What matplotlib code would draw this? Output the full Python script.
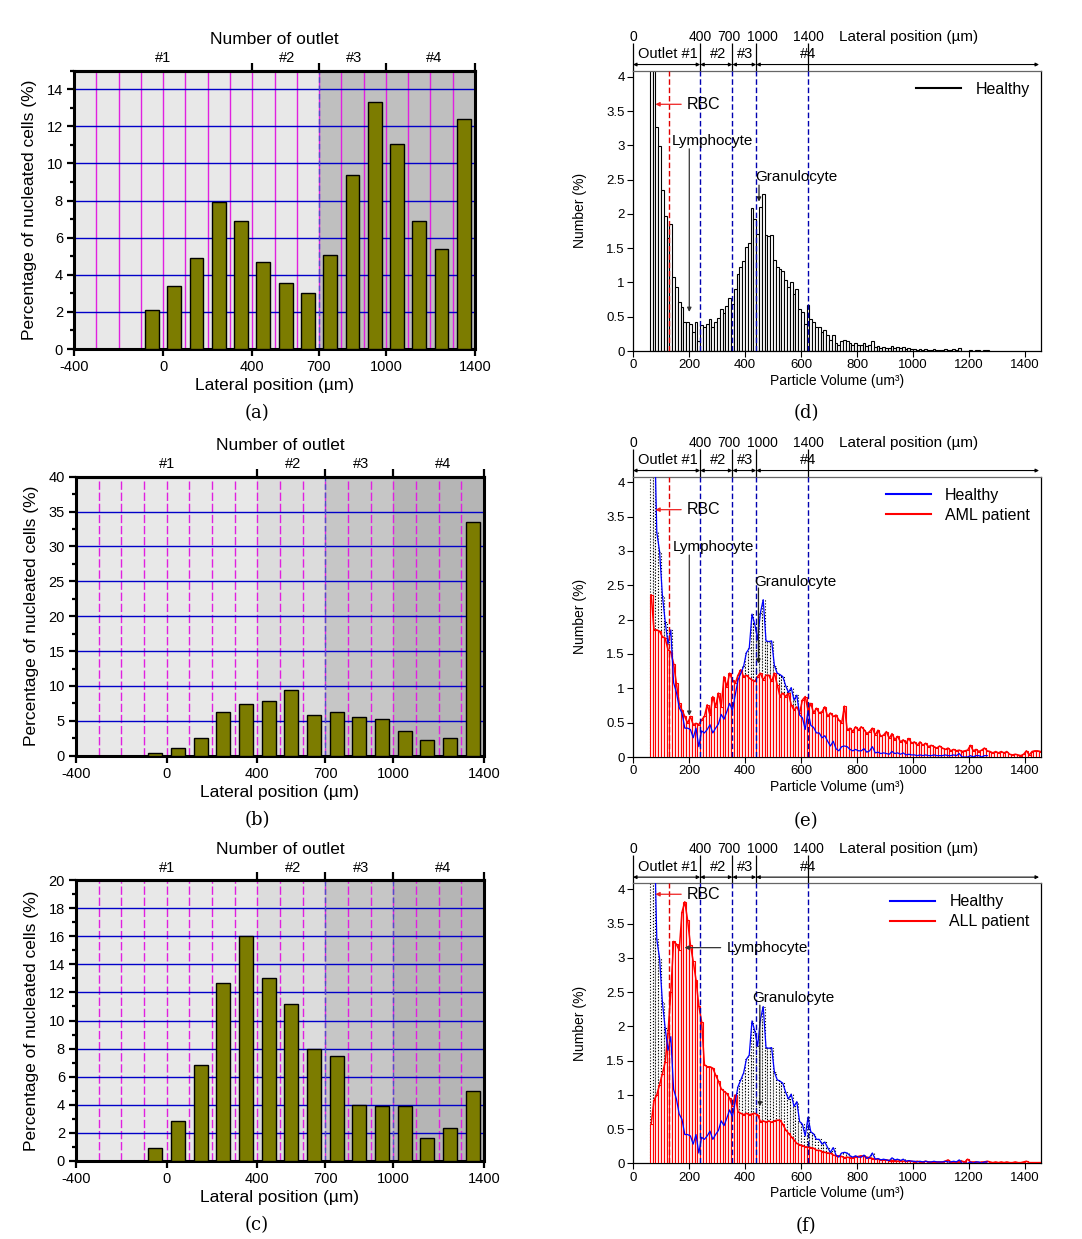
import numpy as np
import matplotlib
matplotlib.use("Agg")
import matplotlib.pyplot as plt
from matplotlib.ticker import AutoMinorLocator
from matplotlib.lines import Line2D

plt.rcParams['font.family'] = ['Liberation Sans', 'DejaVu Sans']
plt.rcParams['axes.unicode_minus'] = False

# ---------------- data: left panels (a)-(c) ----------------
lateral_pos = [-50, 50, 150, 250, 350, 450, 550, 650, 750, 850, 950, 1050, 1150, 1250, 1350]
pct_a = [2.1, 3.4, 4.9, 7.9, 6.9, 4.7, 3.55, 3.0, 5.05, 9.4, 13.3, 11.05, 6.9, 5.4, 12.4]
pct_b = [0.4, 1.1, 2.5, 6.2, 7.4, 7.9, 9.4, 5.8, 6.2, 5.5, 5.2, 3.5, 2.3, 2.6, 33.5]
pct_c = [0.9, 2.8, 6.8, 12.7, 16.0, 13.0, 11.2, 8.0, 7.5, 4.0, 3.9, 3.9, 1.6, 2.3, 5.0]
lateral_ticks = [-400, 0, 400, 700, 1000, 1400]
outlet_bounds = [-400, 400, 700, 1000, 1400]
outlet_names = ['#1', '#2', '#3', '#4']
outlet_name_pos = [0, 557, 858, 1218]

# ---------------- data: right panels (d)-(f) ----------------
vol_start = 60     # first bin left edge (um^3)
vol_width = 10     # bin width (um^3)
healthy = [
    6.2, 5.1, 3.27, 2.99, 2.35, 1.97, 1.65, 1.85, 1.08, 0.94,
    0.72, 0.64, 0.42, 0.42, 0.40, 0.28, 0.42, 0.15, 0.38, 0.35,
    0.40, 0.47, 0.35, 0.42, 0.48, 0.62, 0.55, 0.66, 0.78, 0.68,
    0.90, 1.12, 1.22, 1.32, 1.52, 1.58, 2.08, 1.93, 1.71, 2.10,
    2.29, 1.69, 1.68, 1.69, 1.33, 1.22, 1.20, 1.17, 1.04, 0.94,
    1.01, 0.83, 0.90, 0.61, 0.57, 0.40, 0.67, 0.46, 0.43, 0.35,
    0.35, 0.28, 0.31, 0.23, 0.16, 0.23, 0.12, 0.09, 0.15, 0.16,
    0.15, 0.11, 0.09, 0.11, 0.09, 0.09, 0.12, 0.07, 0.09, 0.15,
    0.06, 0.07, 0.05, 0.06, 0.05, 0.04, 0.08, 0.05, 0.06, 0.04,
    0.06, 0.03, 0.04, 0.03, 0.03, 0.02, 0.03, 0.02, 0.03, 0.02,
    0.02, 0.03, 0.02, 0.02, 0.02, 0.03, 0.02, 0.02, 0.03, 0.02,
    0.05, 0.0, 0.0, 0.0, 0.02, 0.0, 0.02, 0.02, 0.0, 0.02,
    0.02]
aml = [
    2.36, 1.85, 1.85, 1.83, 1.75, 1.73, 1.56, 1.53, 1.36, 1.07,
    0.78, 0.68, 0.59, 0.49, 0.59, 0.47, 0.49, 0.47, 0.54, 0.59,
    0.76, 0.61, 0.88, 0.73, 0.93, 0.73, 1.17, 1.02, 1.22, 1.12,
    1.07, 1.19, 1.27, 1.17, 1.19, 1.15, 1.12, 1.10, 1.17, 1.22,
    1.12, 1.19, 1.19, 1.10, 1.22, 1.05, 0.88, 0.93, 0.88, 0.93,
    0.76, 0.68, 0.73, 0.64, 0.83, 0.88, 0.68, 0.78, 0.64, 0.71,
    0.64, 0.66, 0.73, 0.59, 0.64, 0.59, 0.61, 0.54, 0.49, 0.74,
    0.39, 0.42, 0.37, 0.44, 0.39, 0.44, 0.40, 0.34, 0.37, 0.42,
    0.32, 0.39, 0.30, 0.32, 0.37, 0.27, 0.34, 0.25, 0.30, 0.22,
    0.25, 0.20, 0.27, 0.20, 0.22, 0.17, 0.22, 0.17, 0.20, 0.15,
    0.17, 0.15, 0.13, 0.16, 0.13, 0.11, 0.13, 0.09, 0.11, 0.09,
    0.10, 0.08, 0.09, 0.10, 0.17, 0.09, 0.11, 0.08, 0.10, 0.13,
    0.09, 0.08, 0.06, 0.08, 0.06, 0.08, 0.06, 0.08, 0.04, 0.03,
    0.04, 0.03, 0.02, 0.04, 0.09, 0.03, 0.08, 0.09, 0.09, 0.08]
all_patient = [
    0.58, 0.92, 1.00, 1.15, 1.31, 1.48, 1.90, 2.50, 3.24, 3.20,
    3.11, 3.67, 3.82, 3.55, 3.19, 2.95, 2.68, 2.30, 2.07, 1.44,
    1.41, 1.41, 1.39, 1.29, 1.20, 1.09, 1.05, 1.02, 0.95, 0.83,
    1.00, 0.75, 0.73, 0.71, 0.73, 0.71, 0.72, 0.73, 0.71, 0.61,
    0.62, 0.60, 0.62, 0.60, 0.62, 0.63, 0.63, 0.57, 0.49, 0.44,
    0.39, 0.34, 0.29, 0.27, 0.26, 0.24, 0.24, 0.23, 0.22, 0.19,
    0.19, 0.17, 0.16, 0.15, 0.15, 0.12, 0.11, 0.11, 0.10, 0.08,
    0.09, 0.08, 0.08, 0.09, 0.10, 0.11, 0.10, 0.09, 0.08, 0.07,
    0.06, 0.06, 0.05, 0.05, 0.05, 0.04, 0.04, 0.04, 0.03, 0.04,
    0.03, 0.03, 0.03, 0.03, 0.02, 0.03, 0.02, 0.02, 0.03, 0.02,
    0.02, 0.02, 0.02, 0.02, 0.02, 0.03, 0.05, 0.02, 0.02, 0.02,
    0.02, 0.03, 0.02, 0.06, 0.02, 0.02, 0.02, 0.01, 0.02, 0.02,
    0.03, 0.02, 0.01, 0.02, 0.01, 0.02, 0.01, 0.02, 0.01, 0.01,
    0.02, 0.01, 0.01, 0.02, 0.03, 0.01, 0.01, 0.01, 0.01, 0.01]
vol_ticks = [0, 200, 400, 600, 800, 1000, 1200, 1400]
num_ticks = [0, 0.5, 1, 1.5, 2, 2.5, 3, 3.5, 4]
num_tick_labels = ['0', '0.5', '1', '1.5', '2', '2.5', '3', '3.5', '4']
top_vol_pos = [0, 240, 355, 440, 625]
top_lat_labels = ['0', '400', '700', '1000', '1400']
top_lat_label_x = [0, 240, 343, 461, 625]
outlet_vol_edges = [0, 240, 355, 440, 1450]
outlet_vol_names = ['Outlet #1', '#2', '#3', '#4']
outlet_vol_name_x = [126, 302, 400, 624]
rbc_line = 130

W, H = 1082, 1239
fig = plt.figure(figsize=(W / 100, H / 100), dpi=100)
fig.patch.set_facecolor('white')


def left_panel(rect, vals, ymax, ystep, shades, dashed, mag_ls):
    ax = fig.add_axes(rect)
    ax.set_xlim(-400, 1400)
    ax.set_ylim(0, ymax)
    for x0, x1, c in zip(outlet_bounds[:-1], outlet_bounds[1:], shades):
        ax.axvspan(x0, x1, color=c, lw=0, zorder=0)
    for x in np.arange(-300, 1400, 100):
        ax.axvline(x, color='#e020e0', lw=1.0, ls=mag_ls, zorder=1)
    yt = np.arange(0, ymax + 0.001, ystep)
    ax.set_yticks(yt)
    for y in yt[1:]:
        ax.axhline(y, color='#0000c8', lw=1.0, zorder=1.2)
    for x in dashed:
        ax.axvline(x, color='#5050c8', lw=1.0, ls=(0, (4, 2)), zorder=1.5)
    ax.bar(lateral_pos, vals, width=62, color='#7c7c00', edgecolor='black',
           lw=1.0, zorder=3)
    ax.set_xticks(lateral_ticks)
    ax.tick_params(axis='both', which='major', direction='out', width=1.6,
                   length=5, labelsize=10.5, pad=3)
    ax.yaxis.set_minor_locator(AutoMinorLocator(2))
    ax.tick_params(axis='y', which='minor', direction='out', width=1.6, length=3)
    for s in ax.spines.values():
        s.set_linewidth(2.2)
    ax.set_xlabel('Lateral position (µm)', fontsize=12.5, labelpad=3)
    ax.set_ylabel('Percentage of nucleated cells (%)', fontsize=12.5, labelpad=7)
    sec = ax.secondary_xaxis('top')
    sec.set_xticks(outlet_bounds[1:], labels=[''] * 4)
    sec.set_xticks(outlet_name_pos, labels=outlet_names, minor=True)
    sec.tick_params(which='major', direction='out', length=6, width=1.6)
    sec.tick_params(which='minor', length=0, labelsize=10.5, pad=4)
    sec.spines['top'].set_linewidth(2.2)
    sec.set_xlabel('Number of outlet', fontsize=12.5, labelpad=5)
    return ax


def right_panel(rect, ymax, patient, patient_label, lym, gran, rbc_y):
    ax = fig.add_axes(rect)
    ax.set_xlim(0, 1457)
    ax.set_ylim(0, ymax)
    hx = vol_start + np.arange(len(healthy)) * vol_width
    if patient is None:
        ax.bar(hx, healthy, width=vol_width, align='edge', facecolor='white',
               edgecolor='black', lw=0.8, zorder=2)
    else:
        ax.bar(hx, healthy, width=vol_width, align='edge', facecolor='white',
               edgecolor='black', lw=0.8, ls=':', zorder=2)
        px = vol_start + np.arange(len(patient)) * vol_width
        ax.bar(px, patient, width=vol_width, align='edge', facecolor='#fff4f4',
               edgecolor='#ff0000', lw=0.8, zorder=3)
        ax.plot(px + vol_width / 2, patient, color='#ff0000', lw=1.1, zorder=4)
        ax.plot(hx + vol_width / 2, healthy, color='#0000ff', lw=0.9, zorder=5)
    # outlet boundaries
    ax.axvline(rbc_line, color='#e00000', lw=1.0, ls=(0, (4, 2)), zorder=6)
    for x in top_vol_pos[1:]:
        ax.axvline(x, color='#0000b0', lw=1.0, ls=(0, (4, 2)), zorder=6)
    ax.set_xticks(vol_ticks)
    ax.set_yticks(num_ticks, labels=num_tick_labels)
    ax.tick_params(direction='out', length=4, width=0.8, labelsize=9.5, pad=2)
    for s in ax.spines.values():
        s.set_linewidth(0.9)
    ax.spines['top'].set_color('#666666')
    ax.set_xlabel('Particle Volume (um³)', fontsize=10, labelpad=2)
    ax.set_ylabel('Number (%)', fontsize=10, labelpad=14)
    tr = ax.get_xaxis_transform()
    sec = ax.secondary_xaxis('top')
    sec.set_xticks(top_vol_pos, labels=[''] * len(top_vol_pos))
    sec.tick_params(direction='out', length=20, width=0.9, pad=0)
    sec.spines['top'].set_visible(False)
    for x, lab in zip(top_lat_label_x, top_lat_labels):
        ax.text(x, 1.122, lab, transform=tr, fontsize=10, ha='center',
                va='center')
    ax.text(737, 1.122, 'Lateral position (µm)', transform=tr,
            fontsize=11, ha='left', va='center')
    # outlet arrows
    for x0, x1, name, nx in zip(outlet_vol_edges[:-1], outlet_vol_edges[1:],
                                outlet_vol_names, outlet_vol_name_x):
        ax.annotate('', xy=(x1, 1.022), xytext=(x0, 1.022), xycoords=tr,
                    textcoords=tr, annotation_clip=False,
                    arrowprops=dict(arrowstyle='<|-|>', lw=0.8, color='black',
                                    mutation_scale=5, shrinkA=0, shrinkB=0))
        ax.text(nx, 1.058, name, transform=tr, fontsize=10.5, ha='center',
                va='center')
    # RBC
    ax.annotate('', xy=(80, rbc_y), xytext=(172, rbc_y),
                arrowprops=dict(arrowstyle='-|>', lw=0.9, color='#ee2020',
                                mutation_scale=6, shrinkA=0, shrinkB=0), zorder=8)
    ax.text(192, rbc_y, 'RBC', fontsize=11.5, ha='left', va='center', zorder=8)
    # Lymphocyte
    (ltx, lty), (lax0, lay0), (lax1, lay1) = lym
    ax.text(ltx, lty, 'Lymphocyte', fontsize=11, ha='left', va='center', zorder=8)
    ax.annotate('', xy=(lax1, lay1), xytext=(lax0, lay0),
                arrowprops=dict(arrowstyle='-|>', lw=0.9, color='#333333',
                                mutation_scale=6, shrinkA=0, shrinkB=0), zorder=8)
    (gtx, gty), (gax0, gay0), (gax1, gay1) = gran
    ax.text(gtx, gty, 'Granulocyte', fontsize=11, ha='left', va='center', zorder=8)
    ax.annotate('', xy=(gax1, gay1), xytext=(gax0, gay0),
                arrowprops=dict(arrowstyle='-|>', lw=0.9, color='#222222',
                                mutation_scale=6, shrinkA=0, shrinkB=0), zorder=8)
    # legend
    if patient is None:
        handles = [Line2D([], [], color='black', lw=1.5)]
        labels = ['Healthy']
    else:
        handles = [Line2D([], [], color='#0000ff', lw=1.5),
                   Line2D([], [], color='#ff0000', lw=1.5)]
        labels = ['Healthy', patient_label]
    leg = ax.legend(handles, labels, loc='upper right', frameon=False,
                    fontsize=11.5, handlelength=2.8, handletextpad=0.9,
                    labelspacing=0.3, borderaxespad=0.3)
    leg.set_zorder(10)
    return ax


shade_a = ['#e8e8e8', '#e8e8e8', '#bfbfbf', '#bfbfbf']
shade_bc = ['#e8e8e8', '#dcdcdc', '#c6c6c6', '#b5b5b5']

left_panel([74 / W, 1 - 349 / H, 401 / W, 278.3 / H], pct_a, 15, 2,
           shade_a, [700], '-')
left_panel([76 / W, 1 - 755.7 / H, 408 / W, 279 / H], pct_b, 40, 5,
           shade_bc, [700], (0, (6, 2)))
left_panel([76 / W, 1 - 1160.7 / H, 408 / W, 280.4 / H], pct_c, 20, 2,
           shade_bc, [700, 1000], (0, (6, 2)))

right_panel([633 / W, 1 - 351 / H, 408 / W, 280.3 / H], 4.09, None, None,
            ((138, 3.07), (201, 2.95), (201, 0.57)),
            ((436, 2.54), (450, 2.42), (450, 2.18)), 3.6)
right_panel([633 / W, 1 - 757 / H, 408 / W, 280.3 / H], 4.08, aml, 'AML patient',
            ((142, 3.06), (201, 2.94), (201, 0.6)),
            ((432, 2.55), (448, 2.46), (448, 1.36)), 3.6)
right_panel([633 / W, 1 - 1163.3 / H, 408 / W, 280 / H], 4.09, all_patient,
            'ALL patient',
            ((336, 3.14), (313, 3.15), (184, 3.15)),
            ((426, 2.42), (453, 2.31), (453, 0.83)), 3.93)

captions = [('(a)', 257, 413), ('(b)', 257, 820), ('(c)', 257, 1225),
            ('(d)', 806, 413), ('(e)', 806, 821), ('(f)', 806, 1226)]
for t, x, y in captions:
    fig.text(x / W, 1 - y / H, t, family='DejaVu Serif', fontsize=13,
             ha='center', va='center')

fig.savefig('out.png', dpi=100, facecolor='white')
